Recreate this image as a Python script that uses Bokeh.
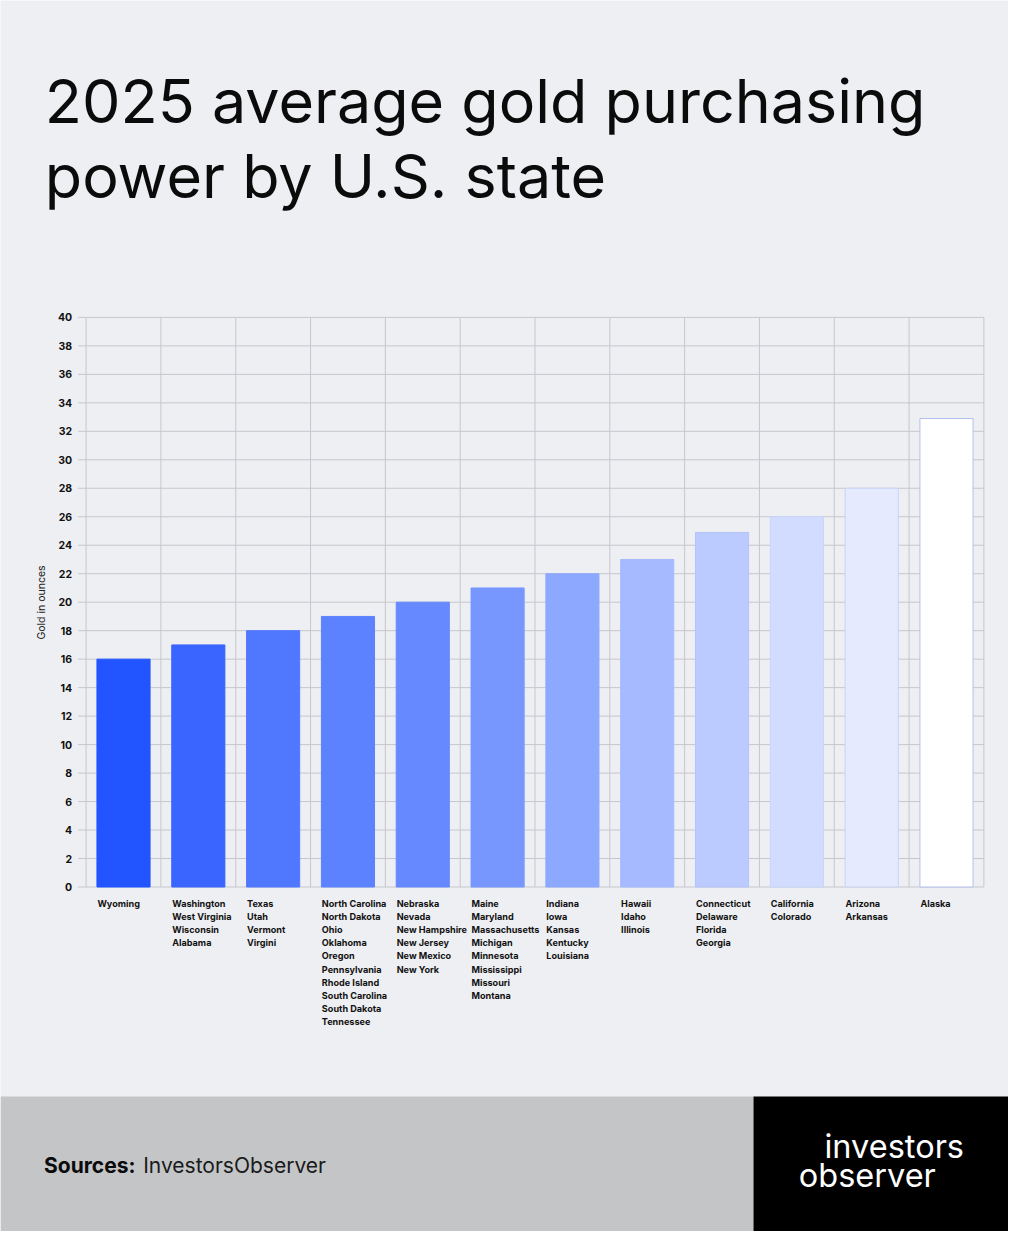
from bokeh.plotting import figure
from bokeh.models import Range1d, FixedTicker, ColumnDataSource, LinearAxis
from bokeh.core.properties import value
from bokeh.embed import file_html
from bokeh.resources import INLINE

# ---------------- data ----------------
TITLE_LINES = ["2025 average gold purchasing", "power by U.S. state"]
Y_LABEL = "Gold in ounces"
SOURCE_BOLD = "Sources:"
SOURCE_TEXT = "InvestorsObserver"
LOGO_LINES = ["investors", "observer"]

groups = [
    ["Wyoming"],
    ["Washington", "West Virginia", "Wisconsin", "Alabama"],
    ["Texas", "Utah", "Vermont", "Virgini"],
    ["North Carolina", "North Dakota", "Ohio", "Oklahoma", "Oregon",
     "Pennsylvania", "Rhode Island", "South Carolina", "South Dakota", "Tennessee"],
    ["Nebraska", "Nevada", "New Hampshire", "New Jersey", "New Mexico", "New York"],
    ["Maine", "Maryland", "Massachusetts", "Michigan", "Minnesota",
     "Mississippi", "Missouri", "Montana"],
    ["Indiana", "Iowa", "Kansas", "Kentucky", "Louisiana"],
    ["Hawaii", "Idaho", "Illinois"],
    ["Connecticut", "Delaware", "Florida", "Georgia"],
    ["California", "Colorado"],
    ["Arizona", "Arkansas"],
    ["Alaska"],
]
gold_oz = [16, 17, 18, 19, 20, 21, 22, 23, 24.9, 26, 28, 32.9]
y_ticks = list(range(0, 41, 2))
Y_MAX = 40

bar_colors = ["#2254FF", "#3A66FF", "#5078FF", "#5C82FF", "#6789FF", "#7797FF",
              "#8DA8FF", "#A6BAFF", "#BBCAFF", "#D2DCFF", "#E5EAFF", "#FFFFFF"]
bar_lines = ["#2254FF", "#3A66FF", "#5078FF", "#5C82FF", "#6789FF", "#7797FF",
             "#8DA8FF", "#A6BAFF", "#B3C3FB", "#C8D4FB", "#C9D3F5", "#B3BFEF"]

# ---------------- layout constants (pixels) ----------------
BG = "#EEEFF3"
GRID = "#C6C7CC"
INK = "#0B0B0C"
FONT = "Inter"
W, H = 1008, 1231
FR_L, FR_R = 85.6, 983.4      # chart plotting area, x
FR_T, FR_B = 316.9, 886.5     # chart plotting area, y (from top)
FOOT_T = 1096
FOOT_SPLIT = 753
BAR_W = 0.71
n = len(groups)

cat_px = (FR_R - FR_L) / n
oz_px = (FR_B - FR_T) / Y_MAX

p = figure(width=W, height=H, x_range=Range1d(0, W), y_range=Range1d(H, 0),
           x_axis_location=None, y_axis_location=None,
           toolbar_location=None, output_backend="svg", min_border=0)
p.background_fill_color = BG
p.border_fill_color = BG
p.outline_line_color = None
p.grid.visible = False

# chart scales mapped onto the chart area
p.extra_x_ranges = {"cat": Range1d(-FR_L / cat_px, (W - FR_L) / cat_px)}
p.extra_y_ranges = {"oz": Range1d(-(H - FR_B) / oz_px, FR_B / oz_px)}

# ---------------- title ----------------
p.text(x=[44.3, 44.3], y=[100.5, 175.5], text=TITLE_LINES,
       text_font=value(FONT), text_font_size="61px", text_color=INK,
       text_baseline="alphabetic", text_align="left")

# ---------------- grid ----------------
tick_ext = 8 / cat_px
p.segment(x0=[-tick_ext] * len(y_ticks), x1=[n] * len(y_ticks), y0=y_ticks, y1=y_ticks,
          line_color=GRID, line_width=1, x_range_name="cat", y_range_name="oz")
p.segment(x0=list(range(n + 1)), x1=list(range(n + 1)), y0=[0] * (n + 1),
          y1=[Y_MAX] * (n + 1), line_color=GRID, line_width=1,
          x_range_name="cat", y_range_name="oz")

# ---------------- y axis ----------------
ya = LinearAxis(x_range_name="cat", y_range_name="oz", fixed_location=0,
                bounds=(0, Y_MAX), ticker=FixedTicker(ticks=y_ticks))
ya.axis_line_color = None
ya.major_tick_line_color = None
ya.minor_tick_line_color = None
ya.major_tick_in = 0
ya.major_tick_out = 8
ya.major_label_standoff = 6
ya.major_label_text_font = FONT
ya.major_label_text_font_size = "10.5px"
ya.major_label_text_font_style = "bold"
ya.major_label_text_color = "#111111"
ya.axis_label = Y_LABEL
ya.axis_label_text_font = FONT
ya.axis_label_text_font_size = "10.5px"
ya.axis_label_text_font_style = "normal"
ya.axis_label_text_color = "#222222"
ya.axis_label_standoff = 7
p.add_layout(ya, "left")

# ---------------- bars ----------------
centers = [i + 0.5 for i in range(n)]
src = ColumnDataSource(dict(x=centers, top=gold_oz, fill=bar_colors, line=bar_lines))
p.vbar(x="x", top="top", bottom=0, width=BAR_W, fill_color="fill",
       line_color="line", line_width=1, source=src,
       x_range_name="cat", y_range_name="oz")

# ---------------- category labels ----------------
lx, ly, lt = [], [], []
for i, names in enumerate(groups):
    for j, nm in enumerate(names):
        lx.append(i + 0.5 - BAR_W / 2 + 0.006)
        ly.append(902.6 + 13.18 * j)
        lt.append(nm)
p.text(x=lx, y=ly, text=lt, text_font=value(FONT), text_font_size="9.1px",
       text_font_style="bold", text_color="#111111",
       text_baseline="alphabetic", text_align="left", x_range_name="cat")

# ---------------- footer ----------------
p.quad(left=[0, FOOT_SPLIT], right=[FOOT_SPLIT, W], top=[FOOT_T, FOOT_T],
       bottom=[H, H], fill_color=["#C4C5C7", "#000000"], line_color=None)
p.text(x=[43.6], y=[1165], text=[SOURCE_BOLD], text_font=value(FONT),
       text_font_size="21px", text_font_style="bold", text_color="#0B0B0C",
       text_baseline="alphabetic")
p.text(x=[142.7], y=[1165], text=[SOURCE_TEXT], text_font=value(FONT),
       text_font_size="21px", text_font_style="normal", text_color="#1A1A1A",
       text_baseline="alphabetic")
p.text(x=[824, 798.3], y=[1146, 1175.4], text=LOGO_LINES, text_font=value(FONT),
       text_font_size="32.5px", text_font_style="normal", text_color="#FFFFFF",
       text_baseline="alphabetic")

open("out.html", "w").write(file_html(p, INLINE))
